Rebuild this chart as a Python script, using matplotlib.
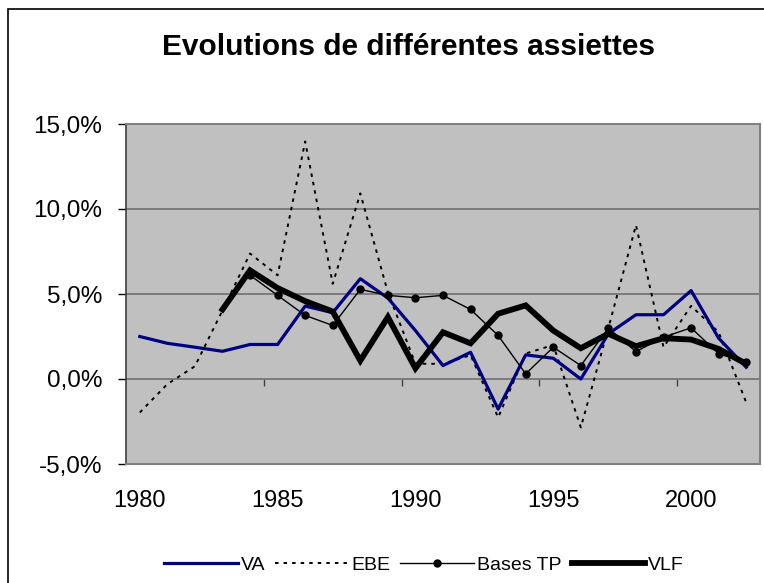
# Evolutions de differentes assiettes -- Excel-style line chart.

import numpy as np
import matplotlib
matplotlib.use("Agg")
import matplotlib.pyplot as plt
import matplotlib.patches as patches
from matplotlib.ticker import FuncFormatter

years = list(range(1980, 2003))

va = [2.50, 2.10, 1.87, 1.63, 2.03, 2.03, 4.29, 3.90, 5.90, 4.76, 2.85, 0.79,
      1.57, -1.77, 1.42, 1.22, 0.00, 2.66, 3.78, 3.78, 5.20, 2.40, 0.69]
ebe = [-1.97, -0.30, 0.75, 4.03, 7.38, 6.10, 13.97, 5.60, 10.92, 5.10, 0.90, 0.89,
       1.40, -2.26, 1.50, 2.00, -2.85, 3.00, 9.05, 1.87, 4.30, 2.75, -1.38]
tp_years = list(range(1984, 2003))
bases_tp = [6.10, 4.92, 3.74, 3.15, 5.27, 4.92, 4.78, 4.92, 4.09, 2.56, 0.30,
            1.87, 0.79, 2.99, 1.61, 2.46, 3.01, 1.48, 0.98]
vlf_years = list(range(1983, 2003))
vlf = [4.09, 6.39, 5.35, 4.58, 3.97, 1.08, 3.64, 0.63, 2.75, 2.10, 3.84, 4.33,
       2.85, 1.81, 2.66, 1.93, 2.40, 2.32, 1.77, 0.89]

y_ticks = [-5, 0, 5, 10, 15]
x_labels = [1980, 1985, 1990, 1995, 2000]

plt.rcParams["font.family"] = ["Liberation Sans", "DejaVu Sans"]

fig = plt.figure(figsize=(7.64, 5.83), dpi=100)
ax = fig.add_axes([126 / 764, 1 - 464 / 583, 634 / 764, 340 / 583])
ax.set_facecolor("#C0C0C0")

# gridlines + zero axis
for v in y_ticks[1:]:
    ax.axhline(v, color="#707070", lw=1.2, zorder=1)

ax.plot(years, va, color="#000080", lw=2.3, label="VA", zorder=3)
ax.plot(years, ebe, color="black", lw=1.4, ls=(0, (1.8, 2.6)), label="EBE", zorder=2)
ax.plot(tp_years, bases_tp, color="black", lw=1.0, marker="o", ms=5,
        label="Bases TP", zorder=4)
ax.plot(vlf_years, vlf, color="black", lw=4.2, solid_joinstyle="miter",
        label="VLF", zorder=3)

ax.set_xlim(1979.5, 2002.5)
ax.set_ylim(-5, 15)
ax.set_yticks(y_ticks)
ax.yaxis.set_major_formatter(FuncFormatter(lambda v, p: f"{v:.1f}%".replace(".", ",")))
ax.set_xticks(x_labels)
ax.tick_params(axis="x", length=0, pad=19, labelsize=17)
ax.tick_params(axis="y", length=6, width=1, direction="out", pad=11, labelsize=17.5)

for s in ["top", "right", "bottom"]:
    ax.spines[s].set_color("#808080")
    ax.spines[s].set_linewidth(1.5)
ax.spines["left"].set_color("#404040")
ax.spines["left"].set_linewidth(1.2)

# tick marks on the 0 % axis, between categories
sec = ax.secondary_xaxis(0.25)
sec.set_xticks([1984.5, 1989.5, 1994.5, 1999.5])
sec.tick_params(axis="x", length=5, width=1, direction="out", labelbottom=False, colors="#404040")
sec.spines["bottom"].set_visible(False)

fig.text(408 / 764, 1 - 55 / 583, "Evolutions de différentes assiettes",
         ha="center", va="baseline", fontsize=21.5, fontweight="bold")

fig.legend(loc="center", bbox_to_anchor=(424 / 764, 1 - 565 / 583), ncol=4, frameon=False,
           fontsize=14, handlelength=3.8, handletextpad=0.15, columnspacing=0.5)

# chart-area border (left and top visible in the picture)
fig.add_artist(patches.Rectangle((8 / 764, -0.1), 1.2, 1 - 9.5 / 583 + 0.1,
                                 transform=fig.transFigure, fill=False,
                                 edgecolor="black", lw=1.2))

fig.savefig("out.png", dpi=100)
